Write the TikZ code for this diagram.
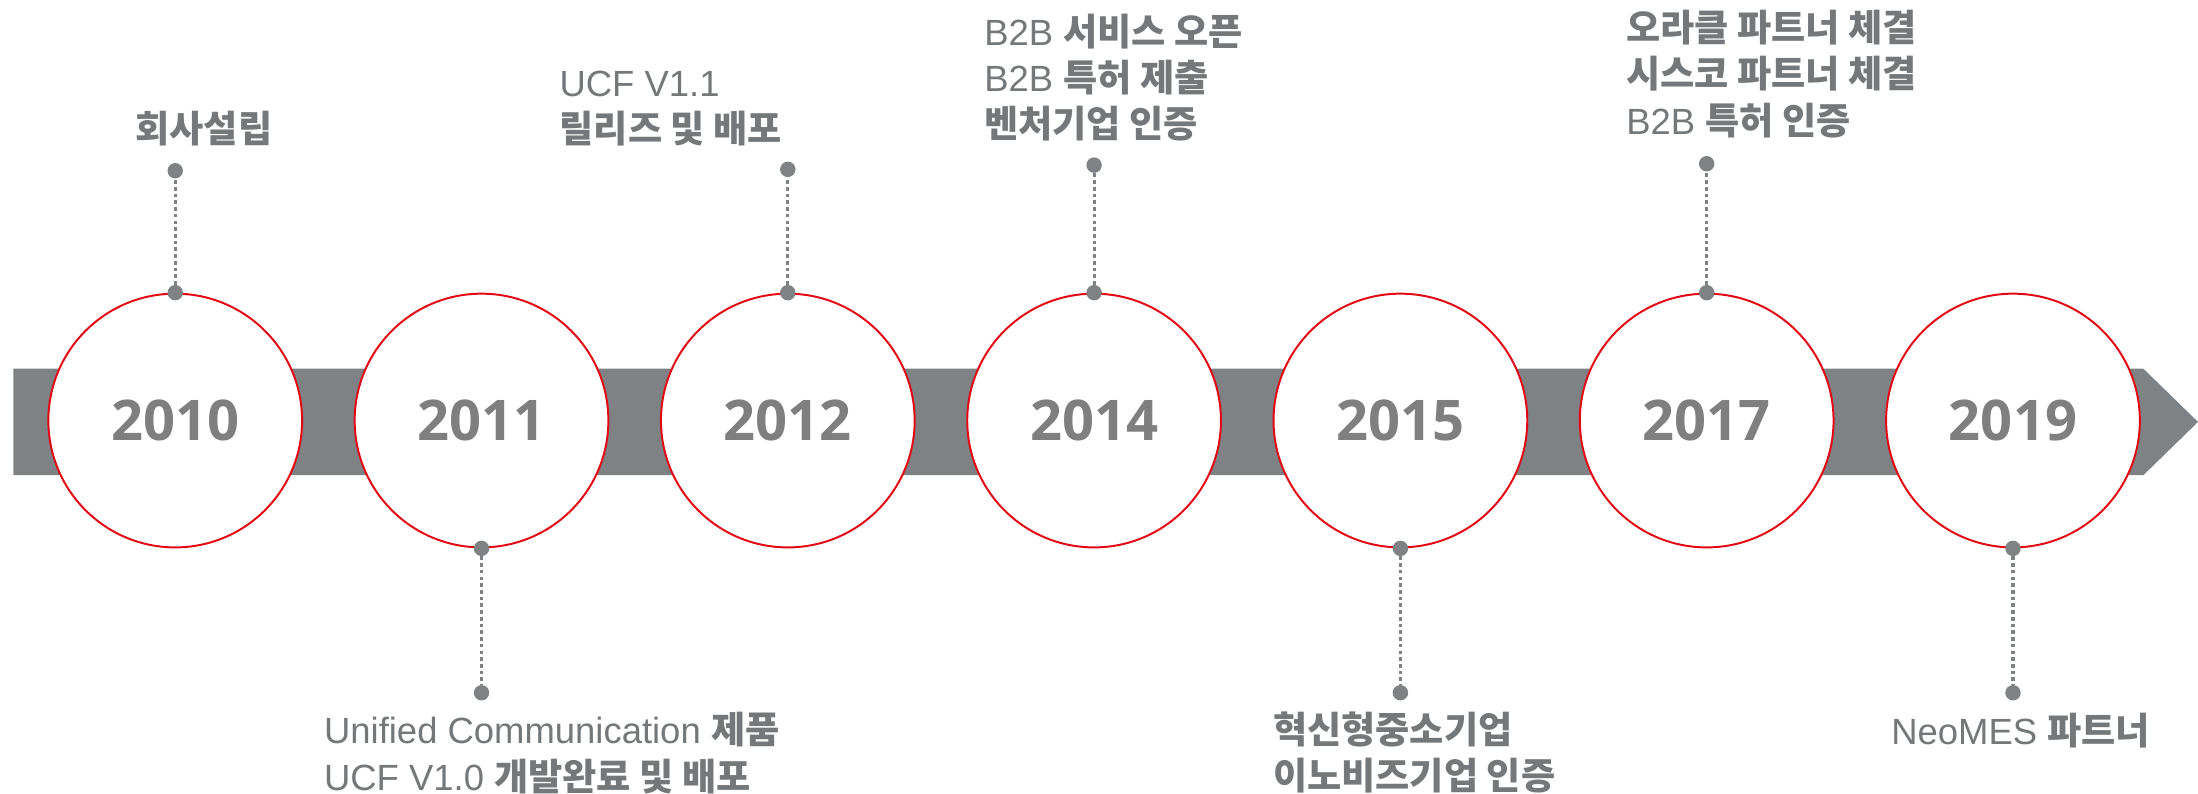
\documentclass[tikz,border=0pt]{standalone}
\usepackage{fontspec}
\setmainfont{Liberation Sans}
\newfontfamily\kr{Noto Sans CJK KR}[Scale=1.02]
\newfontfamily\yearfont{Open Sans}
\usetikzlibrary{positioning, arrows, shapes}
\definecolor{bandgray}{HTML}{7F8285}
\definecolor{textgray}{HTML}{75787B}
\definecolor{yeargray}{HTML}{7F7F7F}
\definecolor{ringred}{HTML}{E30613}
\newcommand{\ko}[1]{{\kr\bfseries #1}}
\tikzstyle{yearcircle} = [draw=ringred, line width=1.4pt, fill=white, circle, minimum size=181pt, inner sep=0pt, text=yeargray, font=\yearfont\bfseries\fontsize{40}{40}\selectfont]
\tikzstyle{pin} = [circle, fill=bandgray, inner sep=0pt, minimum size=11pt]
\tikzstyle{stem} = [draw=bandgray, line width=2.2pt, dash pattern=on 2.6pt off 2.2pt]
\tikzstyle{tagtext} = [inner sep=0pt, align=left, text=textgray, font=\fontsize{26}{33}\selectfont]

\begin{document}
\begin{tikzpicture}[x=1pt, y=1pt]
  \useasboundingbox (0,0) rectangle (1568,566);
  % arrow band
  \fill[bandgray] (9.6,227) -- (9.6,303) -- (1529,303) -- (1568,265) -- (1529,227) -- cycle;
  % year circles
  \foreach \yr/\x in {2010/125, 2011/343.5, 2012/562, 2014/780.5, 2015/999, 2017/1217.5, 2019/1436}
    \node[yearcircle] (c\yr) at (\x,266) {\yr};
  % pins above
  \foreach \yr/\h in {2010/87, 2012/88, 2014/91, 2017/92} {
    \node[pin] (a\yr) at (c\yr.north) {};
    \node[pin] (p\yr) at ([yshift=\h pt]c\yr.north) {};
    \draw[stem] (a\yr) -- (p\yr);
  }
  % pins below
  \foreach \yr in {2011, 2015, 2019} {
    \node[pin] (a\yr) at (c\yr.south) {};
    \node[pin] (p\yr) at ([yshift=-103pt]c\yr.south) {};
    \draw[stem] (a\yr) -- (p\yr);
  }
  % labels
  \node[tagtext] (t2010) at (145.5,474.5) {\ko{회사설립}};
  \node[tagtext, anchor=north west] (t2012) at (399,515.6) {UCF V1.1\\\ko{릴리즈 및 배포}};
  \node[tagtext, anchor=north west] (t2014) at (702,556.5) {B2B \ko{서비스 오픈}\\B2B \ko{특허 제출}\\\ko{벤처기업 인증}};
  \node[tagtext, anchor=north west] (t2017) at (1160,559) {\ko{오라클 파트너 체결}\\\ko{시스코 파트너 체결}\\B2B \ko{특허 인증}};
  \node[tagtext, anchor=north west] (t2011) at (231,58) {Unified Communication \ko{제품}\\UCF V1.0 \ko{개발완료 및 배포}};
  \node[tagtext, anchor=north west] (t2015) at (908,58.4) {\ko{혁신형중소기업}\\\ko{이노비즈기업 인증}};
  \node[tagtext, anchor=north west] (t2019) at (1349,57.4) {NeoMES \ko{파트너}};
\end{tikzpicture}
\end{document}
